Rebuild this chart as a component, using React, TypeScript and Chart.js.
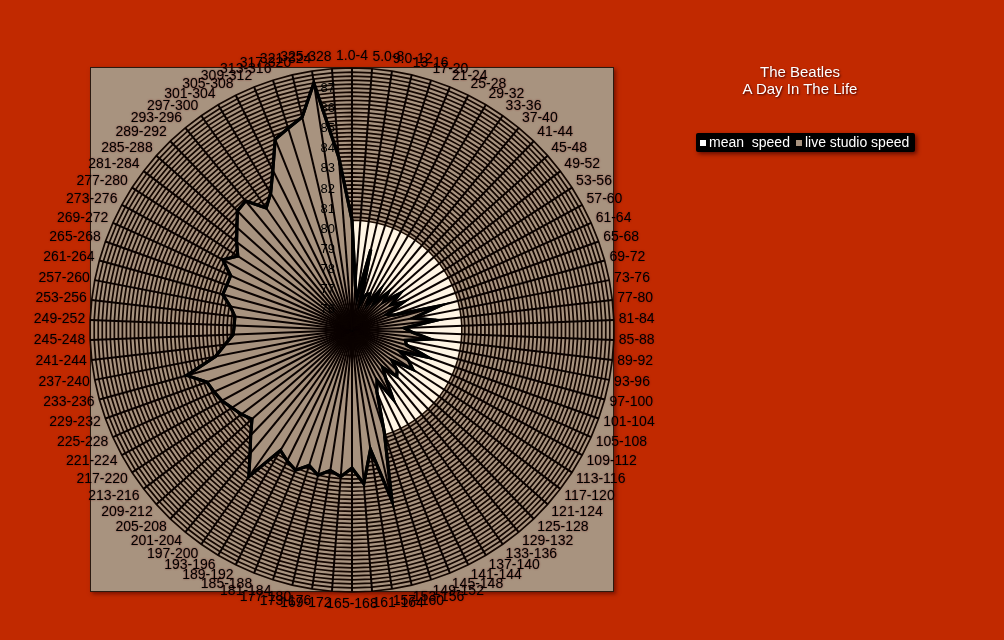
import React, { useEffect, useRef } from "react";
import { Chart, registerables } from "chart.js";

Chart.register(...registerables);

const categories: string[] = [
  "1.0-4", "5.0-8", "9.0-12", "13-16", "17-20", "21-24", "25-28", "29-32", "33-36", "37-40",
  "41-44", "45-48", "49-52", "53-56", "57-60", "61-64", "65-68", "69-72", "73-76", "77-80",
  "81-84", "85-88", "89-92", "93-96", "97-100", "101-104", "105-108", "109-112", "113-116", "117-120",
  "121-124", "125-128", "129-132", "133-136", "137-140", "141-144", "145-148", "149-152", "153-156", "157-160",
  "161-164", "165-168", "169-172", "173-176", "177-180", "181-184", "185-188", "189-192", "193-196", "197-200",
  "201-204", "205-208", "209-212", "213-216", "217-220", "221-224", "225-228", "229-232", "233-236", "237-240",
  "241-244", "245-248", "249-252", "253-256", "257-260", "261-264", "265-268", "269-272", "273-276", "277-280",
  "281-284", "285-288", "289-292", "293-296", "297-300", "301-304", "305-308", "309-312", "313-316", "317-320",
  "321-324", "325-328",
];

const meanSpeed: number[] = [
  80.45, 80.45, 80.45, 80.45, 80.45, 80.45, 80.45, 80.45, 80.45, 80.45,
  80.45, 80.45, 80.45, 80.45, 80.45, 80.45, 80.45, 80.45, 80.45, 80.45,
  80.45, 80.45, 80.45, 80.45, 80.45, 80.45, 80.45, 80.45, 80.45, 80.45,
  80.45, 80.45, 80.45, 80.45, 80.45, 80.45, 80.45, 80.45, 80.45, 80.45,
  80.45, 80.45, 80.45, 80.45, 80.45, 80.45, 80.45, 80.45, 80.45, 80.45,
  80.45, 80.45, 80.45, 80.45, 80.45, 80.45, 80.45, 80.45, 80.45, 80.45,
  80.45, 80.45, 80.45, 80.45, 80.45, 80.45, 80.45, 80.45, 80.45, 80.45,
  80.45, 80.45, 80.45, 80.45, 80.45, 80.45, 80.45, 80.45, 80.45, 80.45,
  80.45, 80.45,
];

const liveStudioSpeed: number[] = [
  80.45, 77.2, 76.6, 79.1, 76.4, 76.9, 77.0, 76.5, 77.4, 76.7,
  77.6, 77.1, 78.0, 77.3, 77.9, 76.9, 77.2, 79.5, 78.1, 79.2,
  77.6, 78.0, 78.9, 77.7, 77.8, 79.0, 77.6, 78.2, 78.6, 77.5,
  78.0, 78.2, 77.4, 77.9, 79.0, 77.8, 78.3, 80.3, 83.7, 81.0,
  82.65, 81.85, 82.3, 82.05, 82.4, 82.05, 82.5, 82.25, 81.95, 83.9,
  82.95, 82.25, 81.65, 81.9, 82.1, 82.35, 82.5, 82.65, 83.5, 81.9,
  81.35, 80.9, 80.85, 80.85, 81.15, 81.65, 81.6, 81.6, 82.3, 81.75,
  82.2, 82.65, 83.2, 83.3, 82.4, 82.9, 83.85, 85.2, 85.5, 85.85,
  87.4, 83.6,
];

const tickLabels: number[] = [76, 77, 78, 79, 80, 81, 82, 83, 84, 85, 86, 87];

const BG = "#c12900";
const TAN = "#a8937f";
const CREAM = "#fff5e4";
const FONT = "'Liberation Sans', Arial, sans-serif";

const overlay = {
  id: "overlay",
  beforeDraw(chart: any) {
    const { ctx, chartArea: a } = chart;
    ctx.save();
    ctx.shadowColor = "rgba(60,0,0,0.55)";
    ctx.shadowBlur = 4;
    ctx.shadowOffsetX = 2;
    ctx.shadowOffsetY = 2;
    ctx.fillStyle = TAN;
    ctx.fillRect(a.left, a.top - 1, a.right - a.left, a.bottom - a.top + 1);
    ctx.restore();
    ctx.save();
    ctx.strokeStyle = "#2b1a10";
    ctx.lineWidth = 1;
    ctx.strokeRect(a.left + 0.5, a.top - 0.5, a.right - a.left - 1, a.bottom - a.top);
    ctx.restore();
  },
  afterDatasetsDraw(chart: any) {
    const { ctx } = chart;
    const scale = chart.scales.r;
    const n = chart.data.labels.length;
    const cx = scale.xCenter;
    const cy = scale.yCenter;
    ctx.save();
    ctx.strokeStyle = "#0a0200";
    ctx.lineWidth = 2;
    for (let i = 0; i < n; i++) {
      const p = scale.getPointPosition(i, scale.drawingArea);
      ctx.beginPath();
      ctx.moveTo(cx, cy);
      ctx.lineTo(p.x, p.y);
      ctx.stroke();
    }
    // redraw the live series outline above the spokes
    const meta = chart.getDatasetMeta(1);
    const pts = meta.data;
    ctx.beginPath();
    pts.forEach((pt: any, i: number) => {
      if (i === 0) ctx.moveTo(pt.x, pt.y);
      else ctx.lineTo(pt.x, pt.y);
    });
    ctx.closePath();
    ctx.strokeStyle = "#000";
    ctx.lineWidth = 3.2;
    ctx.lineJoin = "miter";
    ctx.stroke();

    // point labels
    ctx.font = `14px ${FONT}`;
    ctx.fillStyle = "#000";
    ctx.textBaseline = "middle";
    ctx.shadowColor = "rgba(110,0,0,0.6)";
    ctx.shadowBlur = 2;
    for (let i = 0; i < n; i++) {
      const deg = (i * 360) / n;
      const rad = (deg * Math.PI) / 180;
      const p = scale.getPointPosition(i, scale.drawingArea + 5);
      const rd = Math.round(deg);
      ctx.textAlign = rd === 0 || rd === 180 ? "center" : rd < 180 ? "left" : "right";
      const y = p.y - Math.cos(rad) * 7;
      ctx.fillText(chart.data.labels[i], p.x, y);
    }
    // radial tick labels
    ctx.font = `13px ${FONT}`;
    ctx.textAlign = "right";
    ctx.shadowBlur = 0;
    ctx.shadowColor = "transparent";
    for (const v of tickLabels) {
      const y = cy - scale.getDistanceFromCenterForValue(v);
      ctx.fillText(String(v), cx - 17, y);
    }
    ctx.restore();
  },
};

export default function App() {
  const ref = useRef<HTMLCanvasElement>(null);
  useEffect(() => {
    const chart = new Chart(ref.current as HTMLCanvasElement, {
      type: "radar",
      data: {
        labels: categories,
        datasets: [
          {
            label: "mean  speed",
            data: meanSpeed,
            backgroundColor: CREAM,
            borderColor: "#1a0a00",
            borderWidth: 1.5,
            pointRadius: 0,
            fill: true,
            order: 2,
          },
          {
            label: "live studio speed",
            data: liveStudioSpeed,
            backgroundColor: TAN,
            borderColor: "#000",
            borderWidth: 3,
            pointRadius: 0,
            fill: true,
            order: 1,
          },
        ],
      },
      options: {
        responsive: false,
        animation: false,
        layout: { padding: { left: 90, top: 68, right: 390, bottom: 48 } },
        elements: { line: { tension: 0 } },
        plugins: {
          legend: { display: false },
          title: { display: false },
          tooltip: { enabled: false },
        },
        scales: {
          r: {
            min: 75,
            max: 88,
            startAngle: 0,
            ticks: { stepSize: 0.2, display: false, showLabelBackdrop: false },
            pointLabels: { display: false },
            grid: { color: "#140600", lineWidth: 1.7 },
            angleLines: { display: false },
          },
        },
      } as any,
      plugins: [overlay],
    });
    return () => chart.destroy();
  }, []);

  return (
    <div
      style={{
        position: "fixed",
        left: 0,
        top: 0,
        width: 1004,
        height: 640,
        background: BG,
        fontFamily: FONT,
        overflow: "hidden",
      }}
    >
      <canvas ref={ref} width={1004} height={640} style={{ position: "absolute", left: 0, top: 0 }} />
      <div
        style={{
          position: "absolute",
          left: 700,
          top: 63,
          width: 200,
          textAlign: "center",
          color: "#fff",
          fontSize: 15,
          lineHeight: "17px",
          textShadow: "1px 1px 2px rgba(60,0,0,0.9)",
        }}
      >
        <div>The Beatles</div>
        <div>A Day In The Life</div>
      </div>
      <div
        style={{
          position: "absolute",
          left: 696,
          top: 133,
          width: 219,
          height: 19,
          background: "#000",
          borderRadius: 2,
          boxShadow: "2px 2px 4px rgba(60,0,0,0.7)",
          color: "#fff",
          fontSize: 14,
          lineHeight: "19px",
          whiteSpace: "pre",
          display: "flex",
          alignItems: "center",
        }}
      >
        <span style={{ display: "inline-block", width: 6, height: 6, background: "#fff", marginLeft: 4, marginRight: 3 }} />
        <span>{"mean  speed"}</span>
        <span style={{ display: "inline-block", width: 6, height: 6, background: TAN, marginLeft: 6, marginRight: 3 }} />
        <span>{"live studio speed"}</span>
      </div>
    </div>
  );
}
